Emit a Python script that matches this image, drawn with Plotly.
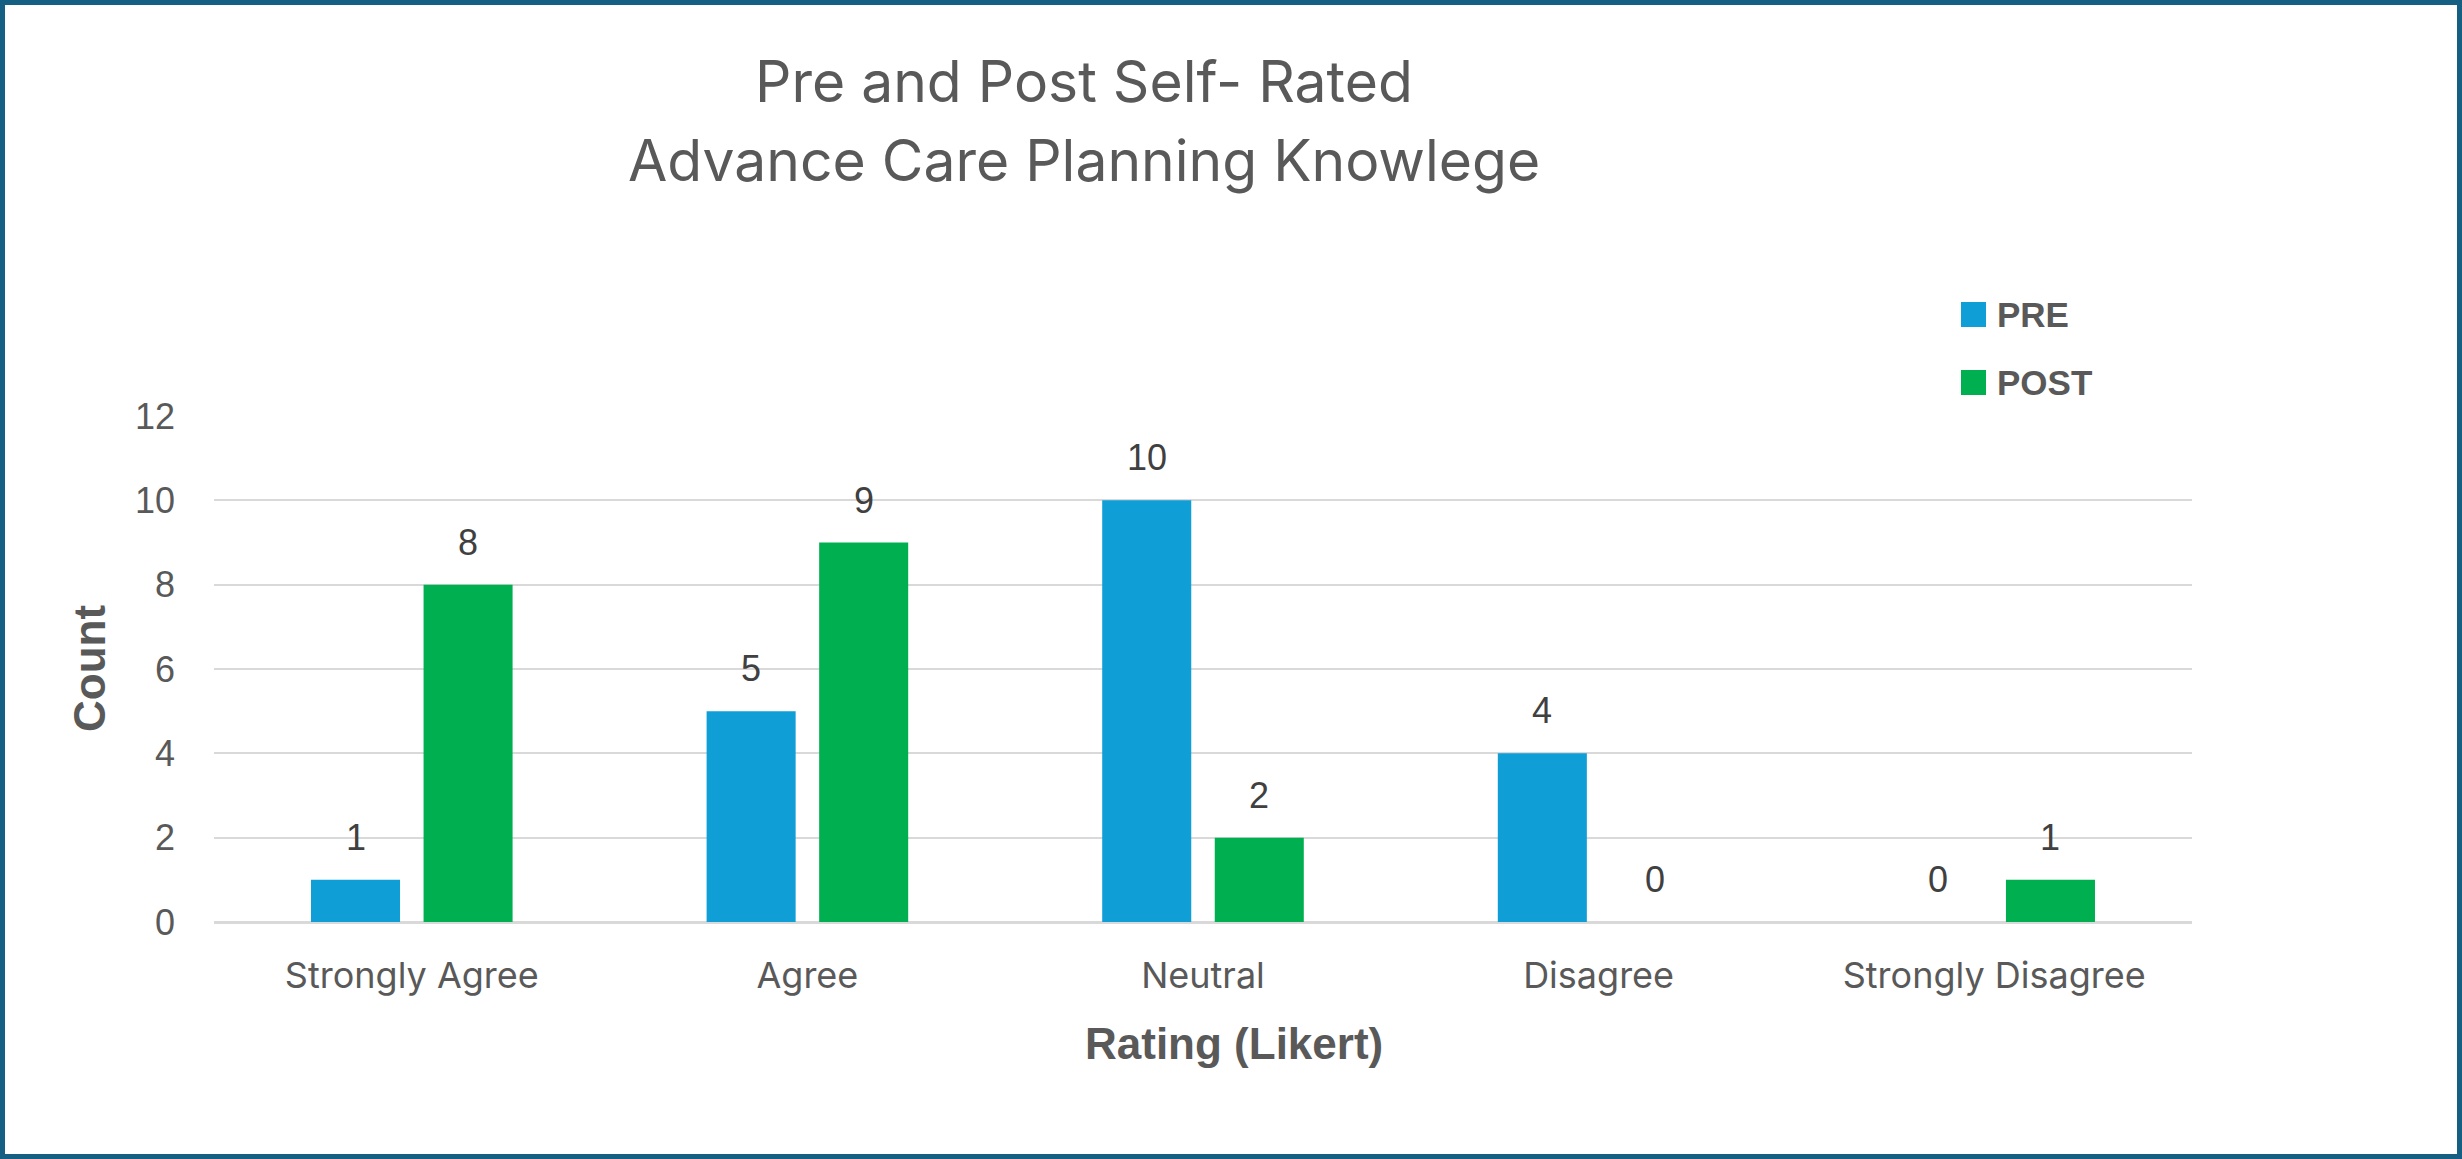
import plotly.graph_objects as go

categories = ["Strongly Agree", "Agree", "Neutral", "Disagree", "Strongly Disagree"]
series_names = ["PRE", "POST"]
pre_values = [1, 5, 10, 4, 0]
post_values = [8, 9, 2, 0, 1]
y_ticks = [0, 2, 4, 6, 8, 10, 12]
title_lines = ["Pre and Post Self- Rated", "Advance Care Planning Knowlege"]
x_title = "Rating (Likert)"
y_title = "Count"

colors = ["#0F9ED5", "#00B050"]
TXT = "#595959"
W, H = 2462, 1159
L, R, T, B = 214, 2192, 416, 922

ARIAL = "Liberation Sans, Arial, sans-serif"
APTOS = "Inter, Liberation Sans, sans-serif"


def px(x):
    return (x - L) / (R - L)


def py(y):
    return (B - y) / (B - T)


fig = go.Figure()
for name, vals, col in zip(series_names, [pre_values, post_values], colors):
    fig.add_trace(go.Bar(x=categories, y=vals, name=name, marker=dict(color=col, line=dict(width=0)),
                         showlegend=False, offsetgroup=name))

# data labels
slot = 112.5
for i, (name, vals) in enumerate(zip(series_names, [pre_values, post_values])):
    shift = -slot / 2 if i == 0 else slot / 2
    for c, v in zip(categories, vals):
        fig.add_annotation(x=c, y=v, xref="x", yref="y", text=str(v), showarrow=False,
                           xshift=shift, yshift=20, yanchor="bottom",
                           font=dict(family=ARIAL, size=36, color="#404040"))

# title
fig.add_annotation(x=px(1084), y=py(81), xref="paper", yref="paper", text=title_lines[0], showarrow=False,
                   xanchor="center", yanchor="middle", font=dict(family=APTOS, size=57, color=TXT))
fig.add_annotation(x=px(1084), y=py(160), xref="paper", yref="paper", text=title_lines[1], showarrow=False,
                   xanchor="center", yanchor="middle", font=dict(family=APTOS, size=57, color=TXT))
# axis titles
fig.add_annotation(x=px(1234), y=py(1043), xref="paper", yref="paper", text="<b>%s</b>" % x_title, showarrow=False,
                   xanchor="center", yanchor="middle", font=dict(family=ARIAL, size=44, color=TXT))
fig.add_annotation(x=px(89), y=py(669), xref="paper", yref="paper", text="<b>%s</b>" % y_title, showarrow=False,
                   textangle=-90, xanchor="center", yanchor="middle", font=dict(family=ARIAL, size=44, color=TXT))

# manual legend
shapes = []
for i, (name, col) in enumerate(zip(series_names, colors)):
    cy = 314.5 + i * 68
    shapes.append(dict(type="rect", xref="paper", yref="paper", x0=px(1961), x1=px(1986),
                       y0=py(cy - 12.5), y1=py(cy + 12.5), fillcolor=col, line=dict(width=0), layer="above"))
    fig.add_annotation(x=px(1995), y=py(cy), xref="paper", yref="paper", text="<b>%s</b>" % name, showarrow=False,
                       xanchor="left", yanchor="middle", font=dict(family=ARIAL, size=35, color=TXT))

# border
bw = 5
shapes.append(dict(type="rect", xref="paper", yref="paper", x0=px(bw / 2), x1=px(W - bw / 2),
                   y0=py(bw / 2), y1=py(H - bw / 2), line=dict(color="#156082", width=bw),
                   fillcolor="rgba(0,0,0,0)", layer="above"))

fig.update_layout(
    width=W, height=H,
    margin=dict(l=L, r=W - R, t=T, b=H - B, pad=0),
    paper_bgcolor="white", plot_bgcolor="white",
    barmode="group", bargap=0.431, bargroupgap=0.209,
    shapes=shapes,
    font=dict(family=ARIAL, color=TXT),
)
fig.update_xaxes(showgrid=False, showline=False, zeroline=False, ticks="",
                 tickfont=dict(family=APTOS, size=36, color=TXT), ticklabelstandoff=29)
fig.update_yaxes(range=[0, 12], tickvals=y_ticks, showgrid=True, gridcolor="#D9D9D9", gridwidth=2,
                 zeroline=True, zerolinecolor="#D9D9D9", zerolinewidth=3, showline=False, ticks="",
                 tickfont=dict(family=ARIAL, size=36, color=TXT), ticklabelstandoff=38)

fig.write_html("out.html", config={"displayModeBar": False},
               post_script="document.body.style.margin='0';document.body.style.overflow='hidden';")
